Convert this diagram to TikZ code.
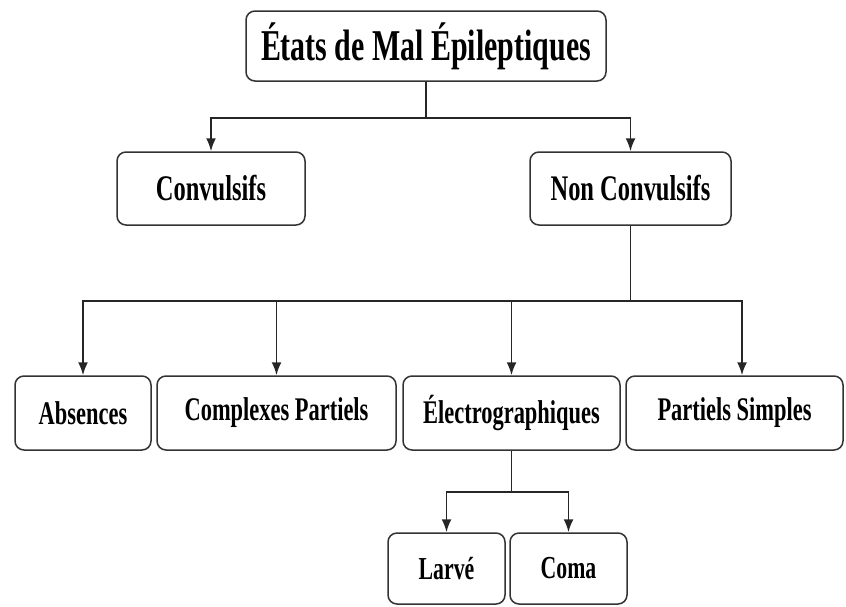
\documentclass[tikz,border=0pt]{standalone}
\usepackage{fontspec}
\newfontfamily\boxfont{Liberation Serif}[FakeStretch=0.68]
\usetikzlibrary{arrows.meta}

\tikzset{
    etat/.style = {draw = black!80, line width = 1.5pt, rounded corners = 9pt,
        font = \boxfont\bfseries, inner sep = 0pt},
    lien/.style = {draw = black!85, line width = 1.8pt},
    fleche/.style = {lien, -{Latex[length=13pt,width=10pt]}}
}

\begin{document}
\begin{tikzpicture}[x=1pt,y=-1pt]
            \useasboundingbox (0,0) rectangle (846,606);
            % racine
            \node[etat, minimum width=360pt, minimum height=70pt, font=\boxfont\bfseries\fontsize{44}{48}\selectfont] (racine) at (426,46) {États de Mal Épileptiques};
            % niveau 1
            \node[etat, minimum width=188pt, minimum height=73pt, font=\boxfont\bfseries\fontsize{36}{40}\selectfont] (conv) at (211,188.5) {Convulsifs};
            \node[etat, minimum width=201pt, minimum height=73pt, font=\boxfont\bfseries\fontsize{36}{40}\selectfont] (nonconv) at (630.5,188.5) {Non Convulsifs};
            % niveau 2
            \node[etat, minimum width=136pt, minimum height=74pt, font=\boxfont\bfseries\fontsize{33}{36}\selectfont] (absences) at (83,413) {Absences};
            \node[etat, minimum width=239pt, minimum height=74pt, font=\boxfont\bfseries\fontsize{33}{36}\selectfont] (complexes) at (276.5,413) {Complexes Partiels};
            \node[etat, minimum width=217pt, minimum height=74pt, font=\boxfont\bfseries\fontsize{33}{36}\selectfont] (electro) at (511.5,413) {Électrographiques};
            \node[etat, minimum width=217pt, minimum height=74pt, font=\boxfont\bfseries\fontsize{33}{36}\selectfont] (simples) at (734.5,413) {Partiels Simples};
            % niveau 3
            \node[etat, minimum width=117pt, minimum height=71pt, font=\boxfont\bfseries\fontsize{32}{36}\selectfont] (larve) at (446.5,568.5) {Larvé};
            \node[etat, minimum width=117pt, minimum height=71pt, font=\boxfont\bfseries\fontsize{32}{36}\selectfont] (coma) at (568.5,568.5) {Coma};

            % liens
            \draw[lien] (racine.south) -- ++(0,36) coordinate (j1);
            \draw[fleche] (j1) -| (conv.north);
            \draw[fleche] (j1) -| (nonconv.north);

            \draw[lien] (nonconv.south) -- ++(0,75) coordinate (j2);
            \draw[fleche] (j2) -| (absences.north);
            \draw[fleche] (j2) -| (complexes.north);
            \draw[fleche] (j2) -| (electro.north);
            \draw[fleche] (j2) -| ([xshift=7.5pt]simples.north);

            \draw[lien] (electro.south) -- ++(0,41) coordinate (j3);
            \draw[fleche] (j3) -| (larve.north);
            \draw[fleche] (j3) -| (coma.north);
        \end{tikzpicture}
\end{document}
